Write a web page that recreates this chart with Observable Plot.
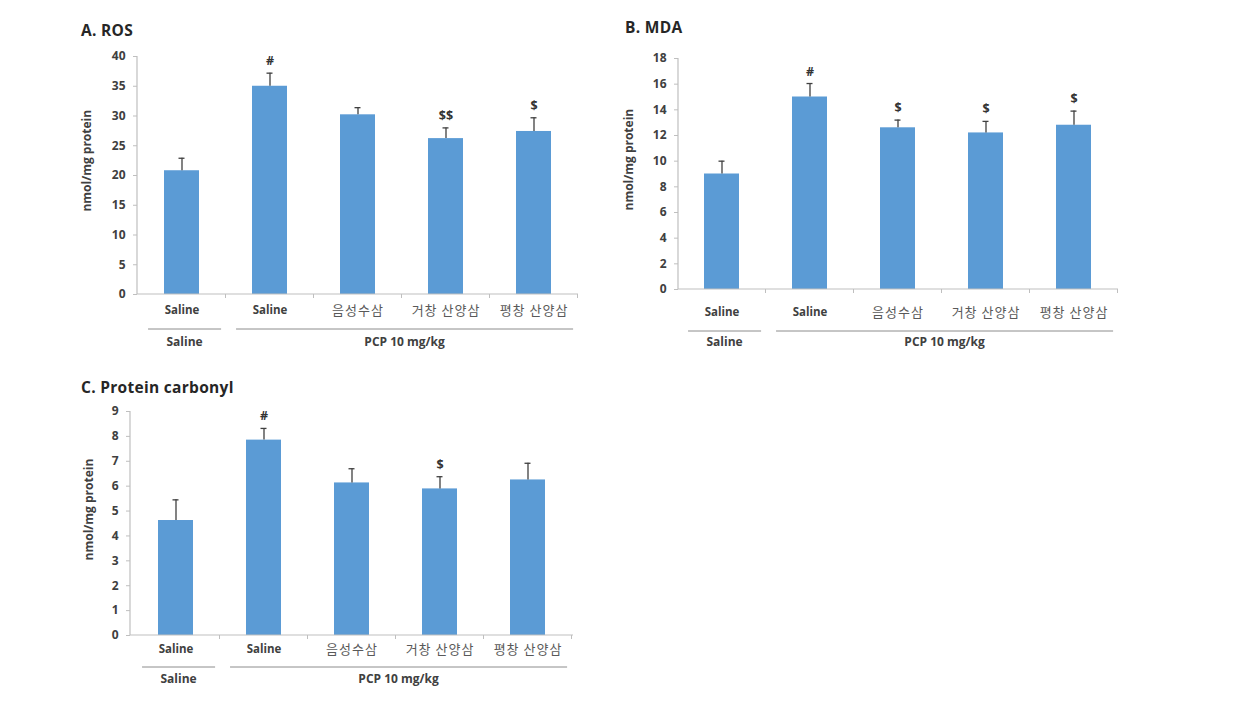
<!DOCTYPE html>
<html>
<head>
<meta charset="utf-8">
<script src="https://cdn.jsdelivr.net/npm/d3@7"></script>
<script src="https://cdn.jsdelivr.net/npm/@observablehq/plot@0.6"></script>
<style>
  html, body { margin: 0; padding: 0; background: #ffffff; }
  #page { position: relative; width: 1245px; height: 721px; overflow: hidden; background: #fff; }
  .title { position: absolute; font-family: "Open Sans", sans-serif; font-weight: bold; font-size: 15.5px; color: #262626; white-space: nowrap; letter-spacing: 0.3px; }
  .panel { position: absolute; }
  .panel svg { overflow: visible; }
  .panel g[font-family*="Noto Sans CJK"] { letter-spacing: 1px; }
</style>
</head>
<body>
<div id="page"></div>
<script>
// ---- data ----
const treatments = ["Saline", "Saline", "음성수삼", "거창 산양삼", "평창 산양삼"];
const injections = ["Saline", "PCP 10 mg/kg", "PCP 10 mg/kg", "PCP 10 mg/kg", "PCP 10 mg/kg"];

const rosMean = [20.8, 35.0, 30.2, 26.2, 27.4];
const rosErr  = [2.1, 2.2, 1.2, 1.8, 2.3];
const rosSig  = ["", "#", "", "$$", "$"];
const rosTicks = [0, 5, 10, 15, 20, 25, 30, 35, 40];

const mdaMean = [9.0, 15.0, 12.6, 12.2, 12.8];
const mdaErr  = [1.0, 1.05, 0.6, 0.9, 1.1];
const mdaSig  = ["", "#", "$", "$", "$"];
const mdaTicks = [0, 2, 4, 6, 8, 10, 12, 14, 16, 18];

const pcMean = [4.62, 7.85, 6.13, 5.89, 6.25];
const pcErr  = [0.83, 0.47, 0.57, 0.49, 0.67];
const pcSig  = ["", "#", "", "$", ""];
const pcTicks = [0, 1, 2, 3, 4, 5, 6, 7, 8, 9];

const panelTitles = ["A. ROS", "B. MDA", "C. Protein carbonyl"];
const yLabel = "nmol/mg protein";

// ---- style ----
const barColor = "#5B9BD5";
const axisColor = "#bfbfbf";
const textColor = "#404040";
const latinFont = "'Open Sans', sans-serif";
const cjkFont = "'Noto Sans CJK KR', sans-serif";

function makeRows(mean, err, sig) {
  return treatments.map((t, i) => ({
    key: injections[i] + "|" + t,
    treatment: t,
    injection: injections[i],
    mean: mean[i],
    err: err[i],
    sig: sig[i],
    korean: /[\uAC00-\uD7A3]/.test(t)
  }));
}

function decorations(rows, cfg) {
  return (index, scales, values, dim) => {
    const desc = scales.scales ? scales.scales.x : null;
    const xs = scales.x;
    const ys = scales.y;
    const keys = rows.map(d => d.key);
    const bw = desc && desc.bandwidth != null ? desc.bandwidth : (typeof xs.bandwidth === "function" ? xs.bandwidth() : 0);
    const step = desc && desc.step != null ? desc.step : (typeof xs.step === "function" ? xs.step() : (xs(keys[1]) - xs(keys[0])));
    const bandStart = k => xs(k) + bw / 2 - step / 2;
    const y0 = ys(0), yTop = ys(cfg.max);
    const left = dim.marginLeft, right = dim.width - dim.marginRight;
    const g = d3.create("svg:g");
    g.append("line").attr("x1", left).attr("x2", left).attr("y1", y0).attr("y2", yTop)
      .attr("stroke", axisColor).attr("stroke-width", 1.2);
    g.append("line").attr("x1", left).attr("x2", right).attr("y1", y0).attr("y2", y0)
      .attr("stroke", axisColor).attr("stroke-width", 1.2);
    keys.forEach(k => {
      const bx = bandStart(k) + step;
      g.append("line").attr("x1", bx).attr("x2", bx).attr("y1", y0).attr("y2", y0 + 4)
        .attr("stroke", axisColor).attr("stroke-width", 1);
    });
    // y-axis title
    const ly = yTop + 0.44 * (y0 - yTop);
    const lx = left - cfg.labelX;
    g.append("text").attr("transform", `translate(${lx},${ly}) rotate(-90)`)
      .attr("text-anchor", "middle").attr("dominant-baseline", "middle")
      .attr("font-family", latinFont).attr("font-weight", "bold").attr("font-size", 12)
      .attr("fill", textColor).text(yLabel);
    const groups = Array.from(new Set(injections));
    groups.forEach(gr => {
      const members = rows.filter(r => r.injection === gr);
      const a = bandStart(members[0].key) + 0.12 * step;
      const b = bandStart(members[members.length - 1].key) + step - 0.05 * step;
      g.append("line").attr("x1", a).attr("x2", b).attr("y1", y0 + cfg.lineDy).attr("y2", y0 + cfg.lineDy)
        .attr("stroke", "#8c8c8c").attr("stroke-width", 1);
      g.append("text").attr("x", (a + b) / 2).attr("y", y0 + cfg.groupDy)
        .attr("text-anchor", "middle").attr("dominant-baseline", "middle")
        .attr("font-family", latinFont).attr("font-weight", "bold").attr("font-size", 12)
        .attr("fill", textColor).text(gr);
    });
    return g.node();
  };
}

function panel(cfg) {
  const rows = makeRows(cfg.mean, cfg.err, cfg.sig);
  const plot = Plot.plot({
    width: cfg.width,
    height: cfg.height,
    marginLeft: cfg.marginLeft,
    marginTop: cfg.marginTop,
    marginRight: 10,
    marginBottom: cfg.marginBottom,
    style: { background: "transparent", fontFamily: latinFont, overflow: "visible" },
    x: { domain: rows.map(d => d.key), paddingInner: 0.6, paddingOuter: 0.3, axis: null },
    y: { domain: [0, cfg.max], axis: null },
    marks: [
      Plot.barY(rows, { x: "key", y: "mean", fill: barColor }),
      Plot.ruleX(rows, { x: "key", y1: "mean", y2: d => d.mean + d.err, stroke: "#404040", strokeWidth: 1.3 }),
      Plot.tickY(rows, { x: "key", y: d => d.mean + d.err, stroke: "#404040", strokeWidth: 1.3, insetLeft: 14.5, insetRight: 14.5 }),
      Plot.text(rows, { x: "key", y: d => d.mean + d.err, text: "sig", dy: -12, fontWeight: "bold", fontSize: 12.5, fill: "#333333" }),
      Plot.axisY({ ticks: cfg.ticks, tickSize: 4, tickPadding: 8, stroke: axisColor, fill: textColor, fontWeight: "bold", fontSize: 12,
        label: null }),
      Plot.text(rows.filter(d => !d.korean), { x: "key", text: "treatment", frameAnchor: "bottom", dy: cfg.labelDy,
        fontWeight: "bold", fontSize: 11.5, fill: textColor, lineAnchor: "middle" }),
      Plot.text(rows.filter(d => d.korean), { x: "key", text: "treatment", frameAnchor: "bottom", dy: cfg.labelDy,
        fontFamily: cjkFont, fontSize: 13, fill: "#595959", lineAnchor: "middle" }),
      decorations(rows, cfg)
    ]
  });
  const wrap = document.createElement("div");
  wrap.className = "panel";
  wrap.style.left = cfg.left + "px";
  wrap.style.top = cfg.top + "px";
  wrap.appendChild(plot);
  document.getElementById("page").appendChild(wrap);
  const t = document.createElement("div");
  t.className = "title";
  t.textContent = cfg.title;
  t.style.left = cfg.titleX + "px";
  t.style.top = cfg.titleY + "px";
  document.getElementById("page").appendChild(t);
}

panel({ title: panelTitles[0], titleX: 81, titleY: 19, mean: rosMean, err: rosErr, sig: rosSig, ticks: rosTicks, max: 40,
  left: 70, top: 40, width: 518, height: 314, marginLeft: 67, marginTop: 16, marginBottom: 60,
  labelDy: 16, lineDy: 35, groupDy: 49, labelX: 49 });
panel({ title: panelTitles[1], titleX: 625, titleY: 16, mean: mdaMean, err: mdaErr, sig: mdaSig, ticks: mdaTicks, max: 18,
  left: 610, top: 40, width: 518, height: 309, marginLeft: 68, marginTop: 18, marginBottom: 60,
  labelDy: 23, lineDy: 42, groupDy: 54, labelX: 48 });
panel({ title: panelTitles[2], titleX: 81, titleY: 376, mean: pcMean, err: pcErr, sig: pcSig, ticks: pcTicks, max: 9,
  left: 70, top: 395, width: 513, height: 300, marginLeft: 60, marginTop: 16, marginBottom: 60,
  labelDy: 14, lineDy: 32, groupDy: 45, labelX: 40 });
</script>
</body>
</html>
